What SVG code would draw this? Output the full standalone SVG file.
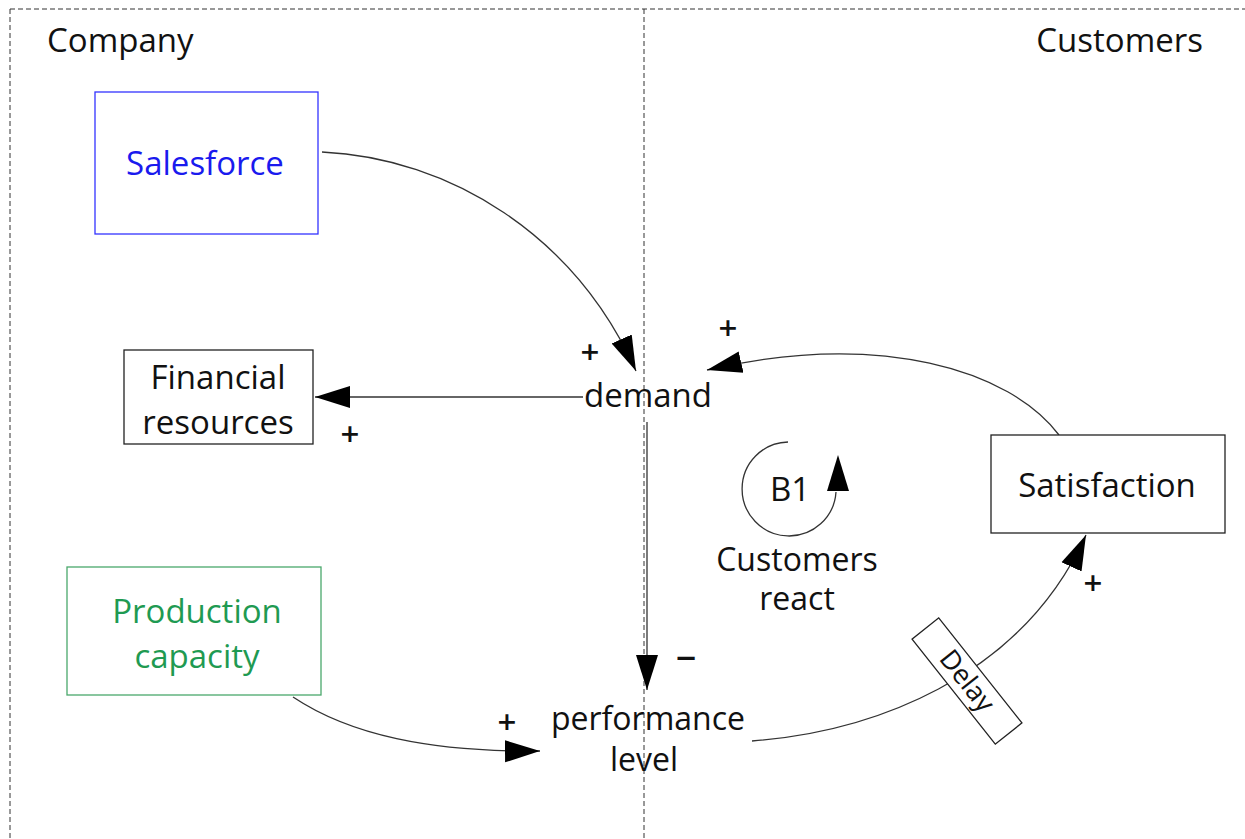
<svg xmlns="http://www.w3.org/2000/svg" width="1245" height="839" viewBox="0 0 1245 839">
<style>
text{font-family:"Open Sans","Noto Sans",sans-serif;font-size:33px;fill:#111;text-anchor:middle}
.two{font-size:32px}
.sign{font-size:33px;font-weight:600}
.box{fill:#fff;stroke:#222;stroke-width:1.3}
.link{fill:none;stroke:#333;stroke-width:1.3}
.border{fill:none;stroke:#333;stroke-width:1;stroke-dasharray:5 3}
</style>
<defs>
<marker id="arr" markerUnits="userSpaceOnUse" markerWidth="36" markerHeight="24" refX="35" refY="12" orient="auto">
<path d="M0,1 L35,12 L0,23 z" fill="#000"/>
</marker>
</defs>
<rect width="1245" height="839" fill="#fff"/>
<g id="borders">
<path class="border" d="M10,9 H1245 M10,9 V839 M644,9 V839"/>
<text x="47" y="52" style="text-anchor:start">Company</text>
<text x="1203" y="52" style="text-anchor:end">Customers</text>
</g>
<g id="connectors">
<path class="link" d="M322,152 C450,158 575,235 636,371" marker-end="url(#arr)"/>
<path class="link" d="M583,397 H315" marker-end="url(#arr)"/>
<path class="link" d="M1059,435 C1010,370 880,330 707,370" marker-end="url(#arr)"/>
<path class="link" d="M647,422 V690" marker-end="url(#arr)"/>
<path class="link" d="M293,697 C350,735 430,752 540,751" marker-end="url(#arr)"/>
<path class="link" d="M752,741 C870,732 1020,680 1086,535" marker-end="url(#arr)"/>
<path class="link" d="M788,442 A47,47 0 1 0 836,492"/>
<path d="M838,455 L849,491 L827,491 z" fill="#000"/>
<text class="sign" x="590" y="364">+</text>
<text class="sign" x="728" y="340">+</text>
<text class="sign" x="350" y="446">+</text>
<text class="sign" x="507" y="734">+</text>
<text class="sign" x="1093" y="595">+</text>
<text class="sign" x="686" y="671" style="font-size:36px">−</text>
</g>
<g id="salesforce">
<rect class="box" x="95" y="92" width="223" height="142" style="stroke:#3333ff"/>
<text x="205" y="175" style="fill:#1a1aee">Salesforce</text>
</g>
<g id="financial">
<rect class="box" x="124" y="350" width="189" height="94"/>
<text x="218" y="389">Financial</text>
<text x="218" y="434">resources</text>
</g>
<g id="production">
<rect class="box" x="67" y="567" width="254" height="128" style="stroke:#4aa86c"/>
<text x="197" y="623" style="fill:#1f9a52">Production</text>
<text x="197" y="668" style="fill:#1f9a52">capacity</text>
</g>
<g id="satisfaction">
<rect class="box" x="991" y="435" width="234" height="98"/>
<text x="1107" y="497">Satisfaction</text>
</g>
<g id="demand">
<text x="648" y="407">demand</text>
</g>
<g id="performance">
<text class="two" x="648" y="730">performance</text>
<text class="two" x="644" y="771">level</text>
</g>
<g id="loop">
<text x="790" y="501">B1</text>
<text class="two" x="797" y="571">Customers</text>
<text class="two" x="797" y="610">react</text>
</g>
<g id="delay" transform="translate(967,681) rotate(51.6)">
<rect class="box" x="-67" y="-17" width="134" height="34"/>
<text x="0" y="9" style="font-size:27px">Delay</text>
</g>
</svg>
